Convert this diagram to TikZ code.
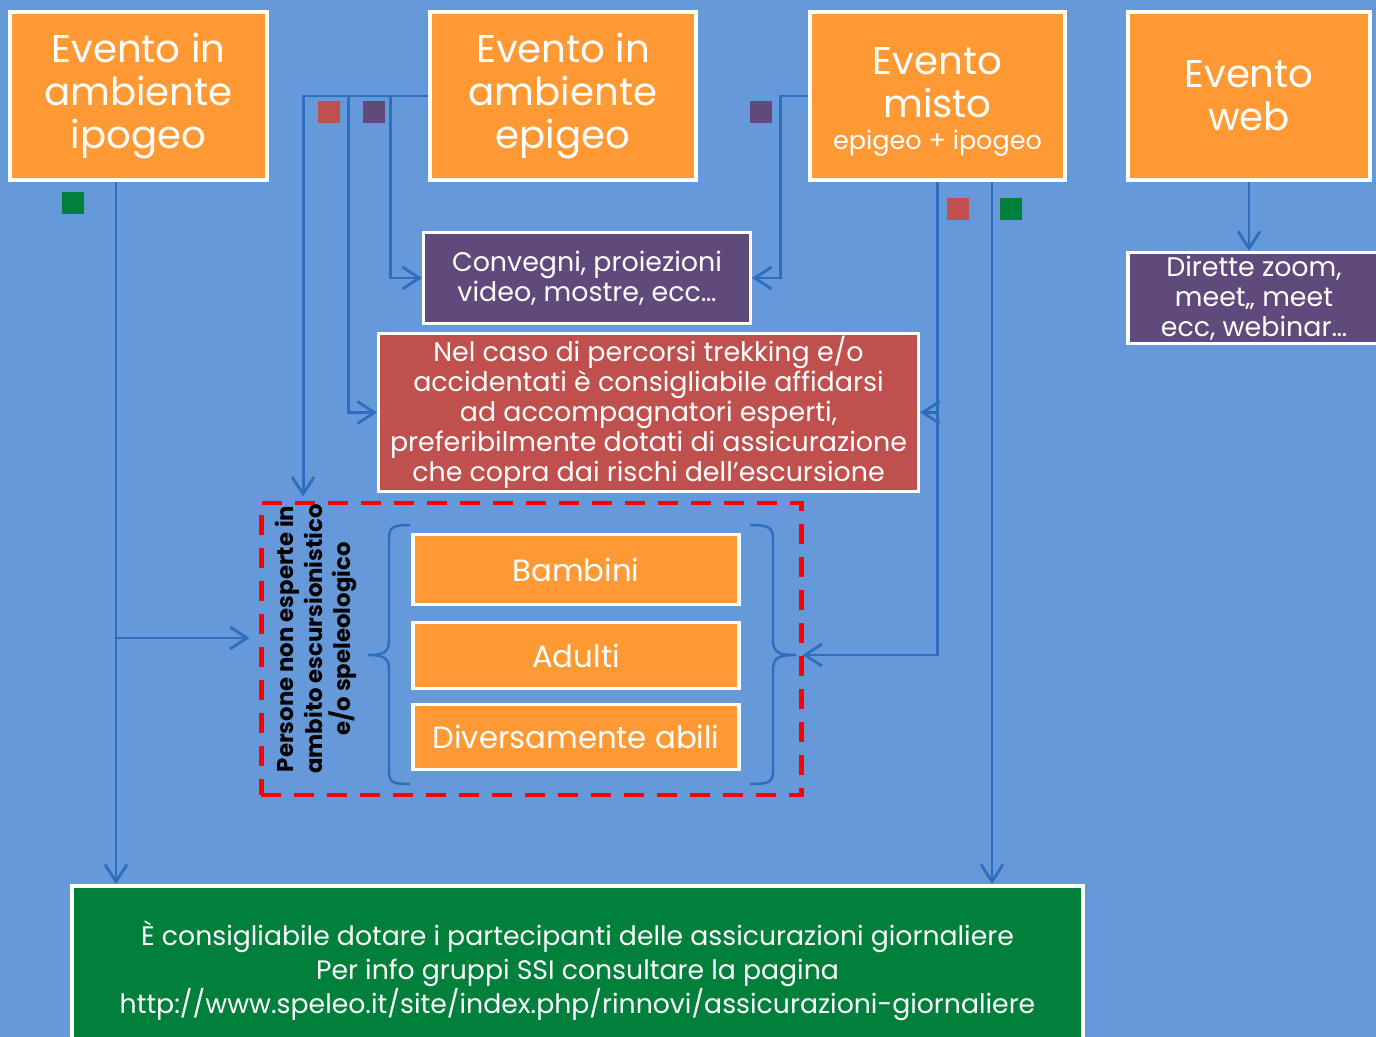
\documentclass[tikz,border=0pt]{standalone}
\usepackage{fontspec}
\setmainfont{Poppins}
\usetikzlibrary{calc}
\usetikzlibrary{arrows.meta}

\definecolor{sfondo}{RGB}{102,153,217}
\definecolor{linea}{RGB}{46,110,190}
\definecolor{arancio}{RGB}{255,153,51}
\definecolor{viola}{RGB}{96,74,123}
\definecolor{rosso}{RGB}{192,80,77}
\definecolor{verde}{RGB}{0,128,58}
\definecolor{tratteggio}{RGB}{255,0,0}

\begin{document}
\begin{tikzpicture}[x=0.02cm,y=-0.02cm,
  evento/.style={draw=white,line width=2.2pt,fill=arancio,text=white,inner sep=0pt,
    align=center,minimum height=3.36cm,font=\fontsize{22}{24.4}\selectfont},
  riquadro/.style={draw=white,line width=1.8pt,text=white,inner sep=0pt,align=center,
    font=\fontsize{15.3}{17}\selectfont},
  categoria/.style={draw=white,line width=2.2pt,fill=arancio,text=white,inner sep=0pt,
    minimum width=6.52cm,font=\fontsize{17.5}{17.5}\selectfont},
  tag/.style={inner sep=0pt,minimum size=0.44cm},
  conn/.style={draw=linea,line width=1.6pt,-{Straight Barb[length=3.4mm,width=4.4mm]}},
  graffa/.style={draw=linea,line width=1.4pt}]

\useasboundingbox (0,0) rectangle (1376,1037);
\fill[sfondo] (0,0) rectangle (1376,1037);

\node[evento,minimum width=5.14cm] (ipo) at (138.5,96) {Evento in\\ambiente\\ipogeo};
\node[evento,minimum width=5.32cm] (epi) at (563,96) {Evento in\\ambiente\\epigeo};
\node[evento,minimum width=5.10cm] (misto) at (937.5,96)
  {\rule{0pt}{22pt}Evento\\misto\\[-6pt]{\fontsize{14.5}{17}\selectfont epigeo + ipogeo}};
\node[evento,minimum width=4.84cm] (web) at (1249,96) {Evento\\web};

\node[riquadro,fill=viola,minimum width=6.54cm,minimum height=1.82cm] (conv) at (587,278)
  {Convegni, proiezioni\\video, mostre, ecc\dots};
\node[riquadro,fill=rosso,minimum width=10.8cm,minimum height=3.16cm] (avviso) at (648.5,412.5)
  {Nel caso di percorsi trekking e/o\\accidentati è consigliabile affidarsi\\ad accompagnatori esperti,\\preferibilmente dotati di assicurazione\\che copra dai rischi dell’escursione};
\node[riquadro,fill=viola,minimum width=5.04cm,minimum height=1.82cm] (dir) at (1254,298)
  {Dirette zoom,\\meet,, meet\\ecc, webinar\dots};

\node[draw=tratteggio,line width=2.8pt,dash pattern=on 0.4cm off 0.26cm,
  minimum width=10.82cm,minimum height=5.84cm] (gruppo) at (531.5,649) {};
\node[rotate=90,align=center,font=\fontsize{13}{16.4}\selectfont\bfseries] (pers) at (316,639)
  {Persone non esperte in\\ambito escursionistico\\e/o speleologico};
\node[categoria,minimum height=1.40cm] (bamb) at (576,569.5) {Bambini};
\node[categoria,minimum height=1.32cm] (adul) at (576,655.5) {Adulti};
\node[categoria,minimum height=1.30cm] (div) at (576,737) {Diversamente abili};
\draw[graffa] (410,525) .. controls (391,525) and (389,528) .. (389,540) -- (389,640)
  .. controls (389,652) and (384,655) .. (368,655) .. controls (384,655) and (389,658) .. (389,670)
  -- (389,770) .. controls (389,782) and (391,784) .. (410,784);
\draw[graffa] (750,525) .. controls (770,525) and (773,528) .. (773,540) -- (773,640)
  .. controls (773,652) and (778,655) .. (796,655) .. controls (778,655) and (773,658) .. (773,670)
  -- (773,770) .. controls (773,782) and (770,784) .. (750,784);

\node[riquadro,fill=verde,line width=2.2pt,minimum width=20.24cm,minimum height=3.4cm,
  font=\fontsize{15.2}{19.3}\selectfont] (assic) at (577.5,971)
  {È consigliabile dotare i partecipanti delle assicurazioni giornaliere\\Per info gruppi SSI consultare la pagina\\http://www.speleo.it/site/index.php/rinnovi/assicurazioni-giornaliere};

\node[tag,fill=verde] (q1) at (73,203) {};
\node[tag,fill=rosso] (q2) at (329,112) {};
\node[tag,fill=viola] (q3) at (374,112) {};
\node[tag,fill=viola] (q4) at (761,112) {};
\node[tag,fill=rosso] (q5) at (958,209) {};
\node[tag,fill=verde] (q6) at (1011,209) {};

\coordinate (ipoA) at ($(ipo.south)+(-22.5,0)$);
\coordinate (gL) at ($(gruppo.west)+(-9,-11)$);
\coordinate (gT) at ($(gruppo.north west)+(44.5,-4)$);
\coordinate (gR) at ($(gruppo.east)+(-2,6)$);
\coordinate (misB) at ($(misto.south)+(54.5,0)$);

\draw[conn] (ipoA) -- (ipoA |- assic.north);
\draw[conn] (ipoA |- gL) -- (gL);
\draw[conn] (epi.west) -| (gT);
\draw[conn] ($(epi.west)+(-80,0)$) |- (avviso.west);
\draw[conn] ($(epi.west)+(-38,0)$) |- (conv.west);
\draw[conn] (misto.west) -- ++(-28,0) |- (conv.east);
\draw[conn] (misto.south) |- (gR);
\draw[conn] (misto.south |- avviso.east) -- (avviso.east);
\draw[conn] (misB) -- (misB |- assic.north);
\draw[conn] (web.south) -- (web.south |- dir.north);

\end{tikzpicture}
\end{document}
